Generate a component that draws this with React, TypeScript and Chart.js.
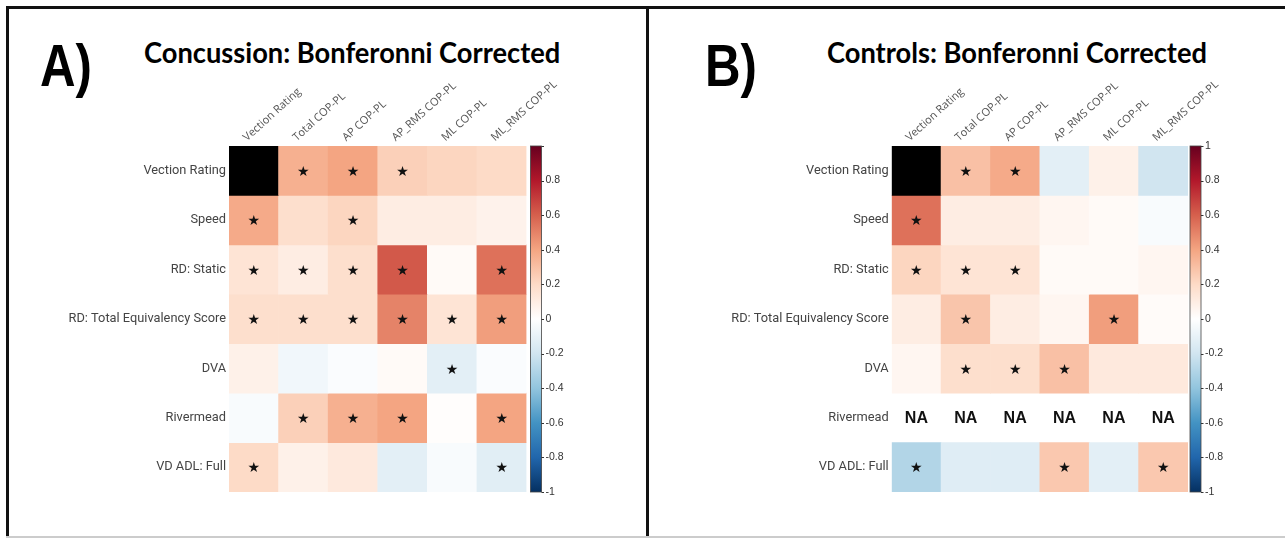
import React, { useEffect, useRef } from "react";
import { Chart, registerables } from "chart.js";

Chart.register(...registerables);

// ---------- data ----------
const columns = ["Vection Rating", "Total COP-PL", "AP COP-PL", "AP_RMS COP-PL", "ML COP-PL", "ML_RMS COP-PL"];
const rows = ["Vection Rating", "Speed", "RD: Static", "RD: Total Equivalency Score", "DVA", "Rivermead", "VD ADL: Full"];
const colorbarTicks = [1, 0.8, 0.6, 0.4, 0.2, 0, -0.2, -0.4, -0.6, -0.8, -1];

const concussionValues: (number | null)[][] = [
  [1, 0.36, 0.4, 0.24, 0.22, 0.2],
  [0.38, 0.18, 0.22, 0.1, 0.1, 0.07],
  [0.15, 0.1, 0.18, 0.62, 0.03, 0.55],
  [0.18, 0.18, 0.18, 0.5, 0.15, 0.42],
  [0.08, -0.06, -0.02, 0.03, -0.12, -0.02],
  [-0.03, 0.24, 0.36, 0.4, 0.01, 0.4],
  [0.2, 0.08, 0.12, -0.12, -0.03, -0.13],
];
// column indices marked significant (*) in each row
const concussionStars: number[][] = [
  [1, 2, 3],
  [0, 2],
  [0, 1, 2, 3, 5],
  [0, 1, 2, 3, 4, 5],
  [4],
  [1, 2, 3, 5],
  [0, 5],
];

const controlsValues: (number | null)[][] = [
  [1, 0.3, 0.38, -0.12, 0.08, -0.2],
  [0.55, 0.1, 0.1, 0.05, 0.03, -0.03],
  [0.22, 0.15, 0.15, 0.03, 0.03, 0.05],
  [0.1, 0.28, 0.1, 0.05, 0.42, 0.02],
  [0.05, 0.18, 0.18, 0.3, 0.12, 0.12],
  [null, null, null, null, null, null],
  [-0.3, -0.14, -0.14, 0.27, -0.12, 0.27],
];
const controlsStars: number[][] = [
  [1, 2],
  [0],
  [0, 1, 2],
  [1, 4],
  [1, 2, 3],
  [],
  [0, 3, 5],
];

// RdBu colormap stops
const rdbuStops: [number, string][] = [
  [-1, "#053061"], [-0.8, "#2166ac"], [-0.6, "#4393c3"], [-0.4, "#92c5de"], [-0.2, "#d1e5f0"],
  [0, "#ffffff"], [0.2, "#fddbc7"], [0.4, "#f4a582"], [0.6, "#d6604d"], [0.8, "#b2182b"], [1, "#67001f"],
];

function hexToRgb(h: string) {
  const n = parseInt(h.slice(1), 16);
  return [(n >> 16) & 255, (n >> 8) & 255, n & 255];
}

function rdbu(v: number) {
  const x = Math.max(-1, Math.min(1, v));
  for (let i = 0; i < rdbuStops.length - 1; i++) {
    const [a, ca] = rdbuStops[i];
    const [b, cb] = rdbuStops[i + 1];
    if (x >= a && x <= b) {
      const t = (x - a) / (b - a);
      const A = hexToRgb(ca), B = hexToRgb(cb);
      const c = A.map((q, k) => Math.round(q + (B[k] - q) * t));
      return `rgb(${c[0]},${c[1]},${c[2]})`;
    }
  }
  return "#ffffff";
}

function cellColor(row: string, col: string, v: number | null) {
  if (v === null) return "rgba(0,0,0,0)";
  if (row === col) return "#000000";
  return rdbu(v);
}

type PanelProps = {
  values: (number | null)[][];
  stars: number[][];
  leftW: number;
  topH: number;
  rightW: number;
  bottomPad: number;
  barGap: number;
  hideTopTick: boolean;
  width: number;
  height: number;
};

function HeatmapPanel(props: PanelProps) {
  const ref = useRef<HTMLCanvasElement | null>(null);
  useEffect(() => {
    if (!ref.current) return;
    const { values, stars, leftW, topH, rightW, bottomPad, barGap, hideTopTick } = props;
    const barW = 11;

    const datasets = rows.map((row, r) => ({
      type: "bar" as const,
      label: row,
      data: columns.map((col, c) => (values[r][c] === null ? null : [r - 0.5, r + 0.5])),
      backgroundColor: columns.map((col, c) => cellColor(row, col, values[r][c])),
      borderWidth: 0,
      barPercentage: 1,
      categoryPercentage: 1,
      grouped: false,
      xAxisID: "x",
      yAxisID: "y",
    }));

    const overlay = {
      id: "overlay",
      afterDatasetsDraw(chart: any) {
        const ctx = chart.ctx;
        const xs = chart.scales.x;
        const ys = chart.scales.y;
        ctx.save();
        ctx.textAlign = "center";
        ctx.textBaseline = "middle";
        rows.forEach((row, r) => {
          const y = ys.getPixelForValue(r);
          columns.forEach((col, c) => {
            const x = xs.getPixelForValue(c);
            if (values[r][c] === null) {
              ctx.fillStyle = "#111";
              ctx.font = 'bold 16px "Liberation Sans", Arial, sans-serif';
              ctx.fillText("NA", x, y + 1);
            } else if (stars[r].includes(c)) {
              ctx.fillStyle = "#111";
              ctx.font = '14px "DejaVu Sans", sans-serif';
              ctx.fillText("\u2605", x, y + 1.5);
            }
          });
        });
        ctx.restore();
      },
      afterDraw(chart: any) {
        const ctx = chart.ctx;
        const cb = chart.scales.cb;
        const area = chart.chartArea;
        const x0 = area.right + barGap;
        const top = cb.getPixelForValue(1);
        const bot = cb.getPixelForValue(-1);
        const grad = ctx.createLinearGradient(0, top, 0, bot);
        rdbuStops.forEach(([v, col]) => {
          grad.addColorStop((1 - v) / 2, col);
        });
        ctx.save();
        ctx.fillStyle = grad;
        ctx.fillRect(x0, top, barW, bot - top);
        ctx.strokeStyle = "#444";
        ctx.lineWidth = 0.8;
        ctx.strokeRect(x0, top, barW, bot - top);
        ctx.strokeStyle = "#333";
        ctx.lineWidth = 1;
        colorbarTicks.forEach((t) => {
          const y = Math.round(cb.getPixelForValue(t)) + 0.5;
          ctx.beginPath();
          ctx.moveTo(x0 + barW, y);
          ctx.lineTo(x0 + barW + 2.5, y);
          ctx.stroke();
        });
        ctx.restore();
      },
    };

    const chart = new Chart(ref.current, {
      type: "bar",
      data: { labels: columns, datasets: datasets as any },
      options: {
        animation: false,
        responsive: false,
        maintainAspectRatio: false,
        events: [],
        layout: { padding: { left: 0, top: 0, right: 0, bottom: bottomPad } },
        plugins: { legend: { display: false }, tooltip: { enabled: false }, title: { display: false } },
        scales: {
          x: {
            type: "category",
            position: "top",
            offset: true,
            grid: { display: false, drawTicks: false },
            border: { display: false },
            ticks: {
              autoSkip: false,
              minRotation: 42,
              maxRotation: 42,
              padding: 2,
              color: "#555",
              font: { family: '"Open Sans", sans-serif', size: 11 },
            },
            afterFit: (s: any) => {
              s.height = topH;
            },
          },
          y: {
            type: "linear",
            position: "left",
            min: -0.5,
            max: rows.length - 0.5,
            reverse: true,
            grid: { display: false, drawTicks: false },
            border: { display: false },
            afterBuildTicks: (s: any) => {
              s.ticks = rows.map((_, i) => ({ value: i }));
            },
            ticks: {
              padding: 3,
              color: "#444",
              font: { family: "Roboto, sans-serif", size: 12.8 },
              callback: (v: any) => rows[Number(v)] ?? "",
            },
            afterFit: (s: any) => {
              s.width = leftW;
            },
          },
          cb: {
            type: "linear",
            axis: "y",
            position: "right",
            min: -1,
            max: 1,
            grid: { drawOnChartArea: false, drawTicks: true, tickLength: barGap + barW + 2.5, color: "rgba(0,0,0,0)" },
            border: { display: false },
            afterBuildTicks: (s: any) => {
              s.ticks = colorbarTicks.map((v) => ({ value: v }));
            },
            ticks: {
              padding: 1.5,
              color: "#333",
              font: { family: '"Liberation Sans", Arial, sans-serif', size: 10.5 },
              callback: (v: any) => {
                const n = Math.round(Number(v) * 10) / 10;
                if (hideTopTick && n === 1) return "";
                return String(n);
              },
            },
            afterFit: (s: any) => {
              s.width = rightW;
            },
          },
        },
      } as any,
      plugins: [overlay],
    });
    return () => chart.destroy();
  }, []);
  return <canvas ref={ref} width={props.width} height={props.height} style={{ width: props.width, height: props.height, display: "block" }} />;
}

const bigLabel: React.CSSProperties = {
  position: "absolute",
  fontFamily: '"Liberation Sans", Arial, sans-serif',
  fontWeight: 700,
  fontSize: 60,
  lineHeight: "60px",
  color: "#000",
  transform: "scaleX(0.82)",
  transformOrigin: "left top",
  whiteSpace: "nowrap",
};

const titleStyle: React.CSSProperties = {
  position: "absolute",
  fontFamily: "Lato, sans-serif",
  fontWeight: 700,
  fontSize: 29,
  lineHeight: "29px",
  color: "#000",
  transform: "scaleX(0.94)",
  transformOrigin: "left top",
  whiteSpace: "nowrap",
};

export default function App() {
  return (
    <div style={{ position: "fixed", left: 0, top: 0, width: 1285, height: 538, background: "#fff", overflow: "hidden" }}>
      {/* frames */}
      <div style={{ position: "absolute", left: 6, top: 6, width: 1279, height: 2.5, background: "#111" }} />
      <div style={{ position: "absolute", left: 6, top: 6, width: 2.5, height: 532, background: "#111" }} />
      <div style={{ position: "absolute", left: 645.5, top: 6, width: 3, height: 532, background: "#111" }} />
      <div style={{ position: "absolute", left: 6, top: 536, width: 1279, height: 1.5, background: "#ccc" }} />

      {/* Panel A */}
      <div style={{ ...bigLabel, left: 40, top: 36 }}>A)</div>
      <div style={{ ...titleStyle, left: 144, top: 37 }}>Concussion: Bonferonni Corrected</div>
      <div style={{ position: "absolute", left: 10, top: 10 }}>
        <HeatmapPanel
          values={concussionValues}
          stars={concussionStars}
          leftW={219}
          topH={136}
          rightW={119.5}
          bottomPad={42}
          barGap={4}
          hideTopTick={true}
          width={636}
          height={524}
        />
      </div>

      {/* Panel B */}
      <div style={{ ...bigLabel, left: 705, top: 36 }}>B)</div>
      <div style={{ ...titleStyle, left: 827, top: 37 }}>Controls: Bonferonni Corrected</div>
      <div style={{ position: "absolute", left: 651, top: 10 }}>
        <HeatmapPanel
          values={controlsValues}
          stars={controlsStars}
          leftW={240.7}
          topH={136}
          rightW={97}
          bottomPad={42}
          barGap={2}
          hideTopTick={false}
          width={634}
          height={524}
        />
      </div>
    </div>
  );
}
